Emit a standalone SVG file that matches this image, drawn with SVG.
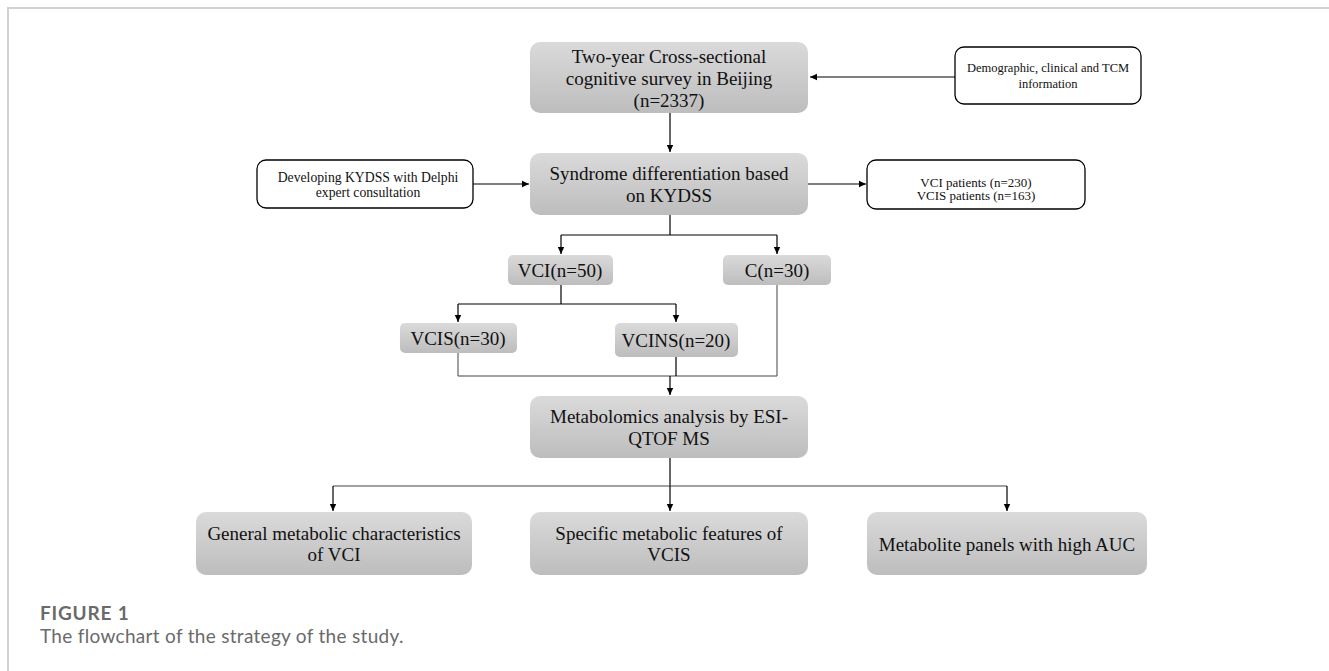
<svg xmlns="http://www.w3.org/2000/svg" width="1329" height="671" viewBox="0 0 1329 671">
<defs>
<linearGradient id="g" x1="0" y1="0" x2="0" y2="1">
<stop offset="0" stop-color="#dadada"/>
<stop offset="1" stop-color="#bdbdbd"/>
</linearGradient>
<marker id="ah" markerWidth="8" markerHeight="8" refX="7" refY="4" orient="auto" markerUnits="userSpaceOnUse">
<path d="M0,0.8 L7,4 L0,7.2 Z" fill="#000"/>
</marker>
<style>
.gb{fill:url(#g);stroke:none}
.ob{fill:#fff;stroke:#000;stroke-width:1.3}
.t{font-family:"Liberation Serif","Times New Roman",serif;font-size:19px;fill:#111;text-anchor:middle}
.ts{font-family:"Liberation Serif","Times New Roman",serif;font-size:13px;fill:#111;text-anchor:middle}
.c{fill:none;stroke:#000;stroke-width:1.2}
.cg{fill:none;stroke:#444;stroke-width:1}
.a{marker-end:url(#ah)}
.cap{font-family:Lato,"Open Sans",sans-serif;font-size:19px;fill:#6a6a6a}
</style>
</defs>
<rect width="1329" height="671" fill="#fff"/>
<path d="M8,671 L8,8 L1329,8" fill="none" stroke="#d2d2d2" stroke-width="2"/>

<g id="connectors">
<line class="c a" x1="955" y1="77" x2="810" y2="77"/>
<line class="c a" x1="670" y1="113" x2="670" y2="152"/>
<line class="c a" x1="473" y1="184" x2="529" y2="184"/>
<line class="c a" x1="808" y1="184" x2="866" y2="184"/>
<polyline class="c" points="670,215 670,235"/>
<polyline class="c" points="561,235 777,235"/>
<line class="c a" x1="561" y1="235" x2="561" y2="254"/>
<line class="c a" x1="777" y1="235" x2="777" y2="254"/>
<polyline class="c" points="561,285 561,304"/>
<polyline class="c" points="458,304 676,304"/>
<line class="c a" x1="458" y1="304" x2="458" y2="322"/>
<line class="c a" x1="676" y1="304" x2="676" y2="322"/>
<polyline class="cg" points="458,353 458,376 777,376 777,285"/>
<polyline class="c" points="676,357 676,376"/>
<line class="c a" x1="670" y1="376" x2="670" y2="395"/>
<polyline class="c" points="670,458 670,486"/>
<polyline class="cg" points="333,486 1007,486"/>
<line class="c a" x1="333" y1="486" x2="333" y2="511"/>
<line class="c a" x1="670" y1="486" x2="670" y2="511"/>
<line class="c a" x1="1007" y1="486" x2="1007" y2="511"/>
</g>

<g id="survey">
<rect class="gb" x="530" y="42" width="278" height="71" rx="10"/>
<text class="t" x="669" y="63">Two-year Cross-sectional</text>
<text class="t" x="669" y="85">cognitive survey in Beijing</text>
<text class="t" x="669" y="107">(n=2337)</text>
</g>
<g id="demographic">
<rect class="ob" x="955" y="47" width="186" height="57" rx="9"/>
<text class="ts" x="1048" y="72" style="font-size:12.5px">Demographic, clinical and TCM</text>
<text class="ts" x="1048" y="88" style="font-size:12.5px">information</text>
</g>
<g id="syndrome">
<rect class="gb" x="530" y="153" width="278" height="62" rx="10"/>
<text class="t" x="669" y="180">Syndrome differentiation based</text>
<text class="t" x="669" y="202">on KYDSS</text>
</g>
<g id="delphi">
<rect class="ob" x="257" y="160" width="216" height="48" rx="9"/>
<text class="ts" x="368" y="182" style="font-size:13.7px">Developing KYDSS with Delphi</text>
<text class="ts" x="368" y="197" style="font-size:13.7px">expert consultation</text>
</g>
<g id="patients">
<rect class="ob" x="867" y="160" width="218" height="49" rx="9"/>
<text class="ts" x="976" y="187">VCI patients (n=230)</text>
<text class="ts" x="976" y="200">VCIS patients (n=163)</text>
</g>
<g id="vci">
<rect class="gb" x="508" y="255" width="105" height="30" rx="5"/>
<text class="t" x="560" y="277">VCI(n=50)</text>
</g>
<g id="control">
<rect class="gb" x="723" y="255" width="108" height="30" rx="5"/>
<text class="t" x="777" y="277">C(n=30)</text>
</g>
<g id="vcis">
<rect class="gb" x="400" y="323" width="117" height="30" rx="5"/>
<text class="t" x="458" y="345">VCIS(n=30)</text>
</g>
<g id="vcins">
<rect class="gb" x="615" y="323" width="123" height="34" rx="5"/>
<text class="t" x="676" y="347">VCINS(n=20)</text>
</g>
<g id="metabolomics">
<rect class="gb" x="530" y="396" width="278" height="62" rx="10"/>
<text class="t" x="669" y="423">Metabolomics analysis by ESI-</text>
<text class="t" x="669" y="445">QTOF MS</text>
</g>
<g id="general">
<rect class="gb" x="196" y="512" width="276" height="63" rx="10"/>
<text class="t" x="334" y="540">General metabolic characteristics</text>
<text class="t" x="334" y="561">of VCI</text>
</g>
<g id="specific">
<rect class="gb" x="530" y="512" width="278" height="63" rx="10"/>
<text class="t" x="669" y="540">Specific metabolic features of</text>
<text class="t" x="669" y="561">VCIS</text>
</g>
<g id="panels">
<rect class="gb" x="867" y="512" width="280" height="63" rx="10"/>
<text class="t" x="1007" y="551">Metabolite panels with high AUC</text>
</g>

<g id="caption">
<text class="cap" x="40" y="620" font-weight="bold" letter-spacing="0.8">FIGURE 1</text>
<text class="cap" x="40" y="643" letter-spacing="0.3">The flowchart of the strategy of the study.</text>
</g>
</svg>
